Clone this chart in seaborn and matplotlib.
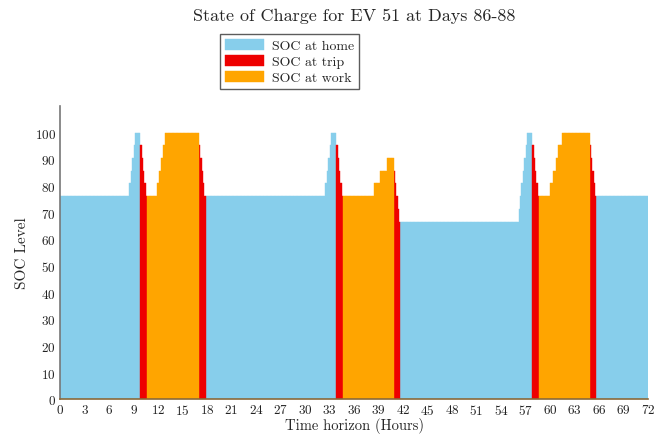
import numpy as np
import pandas as pd
import seaborn as sns
import matplotlib.pyplot as plt

# SOC profile in 10-minute slots: state, level, number of slots
seg_state = ['home'] * 6 + ['trip'] * 5 + ['work'] * 6 + ['trip'] * 5 + \
            ['home'] * 6 + ['trip'] * 5 + ['work'] * 4 + ['trip'] * 5 + \
            ['home'] * 8 + ['trip'] * 5 + ['work'] * 6 + ['trip'] * 5 + ['home']
seg_level = [76.19, 80.95, 85.71, 90.48, 95.24, 100,
             95.24, 90.48, 85.71, 80.95, 76.19,
             76.19, 80.95, 85.71, 90.48, 95.24, 100,
             95.24, 90.48, 85.71, 80.95, 76.19,
             76.19, 80.95, 85.71, 90.48, 95.24, 100,
             95.24, 90.48, 85.71, 80.95, 76.19,
             76.19, 80.95, 85.71, 90.48,
             85.71, 80.95, 76.19, 71.43, 66.67,
             66.67, 71.43, 76.19, 80.95, 85.71, 90.48, 95.24, 100,
             95.24, 90.48, 85.71, 80.95, 76.19,
             76.19, 80.95, 85.71, 90.48, 95.24, 100,
             95.24, 90.48, 85.71, 80.95, 76.19,
             76.19]
seg_count = [51, 1, 1, 1, 1, 4,
             1, 1, 1, 1, 1,
             7, 2, 1, 2, 1, 25,
             1, 1, 1, 1, 1,
             88, 1, 1, 1, 1, 4,
             1, 1, 1, 1, 1,
             23, 4, 5, 5,
             1, 1, 1, 1, 1,
             87, 1, 1, 1, 1, 1, 1, 4,
             1, 1, 1, 1, 1,
             8, 2, 2, 2, 3, 20,
             1, 1, 1, 1, 1,
             38]

states = ['home', 'trip', 'work']
labels = ['SOC at home', 'SOC at trip', 'SOC at work']
colors = {'home': '#87CEEB', 'trip': '#EE0000', 'work': '#FFA500'}

slot = 1 / 6  # hours
soc = np.repeat(seg_level, seg_count)
state = np.repeat(seg_state, seg_count)
t = (np.arange(len(soc)) + 0.5) * slot
df = pd.DataFrame({'t': t, 'soc': soc, 'state': state})

sns.set_theme(style='white')
plt.rcParams['font.family'] = 'serif'
plt.rcParams['font.serif'] = ['cmr10', 'DejaVu Serif']
plt.rcParams['axes.formatter.use_mathtext'] = True

fig = plt.figure(figsize=(6.64, 4.35), dpi=100)
ax = fig.add_axes([0.0904, 0.08, 0.8856, 0.674])

sns.barplot(data=df, x='t', y='soc', hue='state', hue_order=states, palette=colors,
            native_scale=True, dodge=False, width=1, errorbar=None, linewidth=0,
            saturation=1, ax=ax)
for p in ax.patches:
    p.set_edgecolor(p.get_facecolor())
    p.set_linewidth(0.3)

ax.set_xlim(0, 72)
ax.set_ylim(0, 110)
ax.set_xticks(range(0, 73, 3))
ax.set_yticks(range(0, 101, 10))
ax.tick_params(direction='in', length=5, width=1, labelsize=9.5, colors='#222222', pad=3)
ax.set_xlabel('Time horizon (Hours)', fontsize=10.5, labelpad=0)
ax.set_ylabel('SOC Level', fontsize=11)
ax.set_title('State of Charge for EV 51 at Days 86-88', fontsize=13, pad=62)

for s in ['top', 'right']:
    ax.spines[s].set_visible(False)
ax.spines['left'].set_color('#777777')
ax.spines['left'].set_linewidth(1.2)
ax.spines['bottom'].set_color('#8a6a3a')
ax.spines['bottom'].set_linewidth(1.2)

handles, _ = ax.get_legend_handles_labels()
leg = ax.legend(handles, labels, loc='upper center', bbox_to_anchor=(0.39, 1.27),
                fontsize=10, frameon=True, fancybox=False, edgecolor='#333333',
                handlelength=2.8, handleheight=0.85, labelspacing=0.2,
                borderpad=0.35, handletextpad=0.6)
leg.get_frame().set_linewidth(1.0)

fig.savefig('out.png', dpi=100)
